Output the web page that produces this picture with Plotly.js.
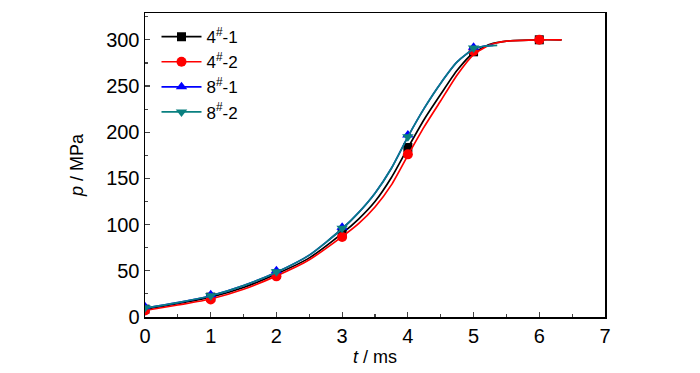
<!DOCTYPE html>
<html>
<head>
<meta charset="utf-8">
<script src="https://cdn.plot.ly/plotly-3.0.1.min.js"></script>
<style>html,body{margin:0;padding:0;background:#fff;}#chart{width:700px;height:373px;}</style>
</head>
<body>
<div id="chart"></div>
<script>
// dense curve data (t in ms, p in MPa)
var tBlack = [0, 0.5, 1, 1.5, 2, 2.5, 3, 3.25, 3.5, 3.75, 4, 4.25, 4.5, 4.75, 5, 5.25, 5.5, 6, 6.34];
var pBlack = [8.5, 14.5, 21.5, 32, 46.5, 64, 90.5, 106, 125, 151, 183, 214, 241, 267, 286, 295, 298.5, 300, 300];
var tRed = [0, 0.5, 1, 1.5, 2, 2.5, 3, 3.25, 3.5, 3.75, 4, 4.25, 4.5, 4.75, 5, 5.25, 5.5, 6, 6.34];
var pRed = [7, 13, 19.5, 30, 44.5, 62, 87, 101, 119, 143, 175, 206, 234, 262, 284, 294.5, 298.5, 300, 300];
var tBlue = [0, 0.5, 1, 1.5, 2, 2.5, 3, 3.25, 3.5, 3.75, 4, 4.25, 4.5, 4.75, 5, 5.15, 5.3];
var pBlue = [9.5, 15.5, 23, 34, 48.5, 67, 95.5, 113, 134, 161, 195, 226, 253, 276, 290, 293, 294];
var tTeal = [0, 0.5, 1, 1.5, 2, 2.5, 3, 3.25, 3.5, 3.75, 4, 4.25, 4.5, 4.75, 5, 5.15, 5.36];
var pTeal = [9.5, 15.5, 23, 34, 48.5, 67, 95.5, 113, 134, 161, 195, 226, 253, 276, 290, 293, 294];

// marker points
var tMark4 = [0, 1, 2, 3, 4, 5, 6];
var mBlack = [8.5, 21.5, 46.5, 90.5, 183.5, 287, 300];
var mRed = [7, 19, 44, 86.5, 176, 288, 300];
var tMark8 = [0, 1, 2, 3, 4, 5];
var mBlue = [11, 24, 50, 97, 197, 292];
var mTeal = [10, 23, 49, 96, 195, 291];

var names = ['4<sup>#</sup>-1', '4<sup>#</sup>-2', '8<sup>#</sup>-1', '8<sup>#</sup>-2'];
var xTicks = [0, 1, 2, 3, 4, 5, 6, 7];
var yTicks = [0, 50, 100, 150, 200, 250, 300];

var series = [
  {t: tBlack, p: pBlack, mt: tMark4, mp: mBlack, color: '#000000', symbol: 'square', size: 9, name: names[0]},
  {t: tRed, p: pRed, mt: tMark4, mp: mRed, color: '#ff0000', symbol: 'circle', size: 10, name: names[1]},
  {t: tBlue, p: pBlue, mt: tMark8, mp: mBlue, color: '#0000ff', symbol: 'triangle-up', size: 10, name: names[2]},
  {t: tTeal, p: pTeal, mt: tMark8, mp: mTeal, color: '#0a8080', symbol: 'triangle-down', size: 10, name: names[3]}
];

var traces = [];
series.forEach(function(s) {
  traces.push({x: s.t, y: s.p, type: 'scatter', mode: 'lines', showlegend: false,
    line: {color: s.color, width: 1.7, shape: 'spline', smoothing: 0.6}, hoverinfo: 'skip'});
  traces.push({x: s.mt, y: s.mp, type: 'scatter', mode: 'markers', showlegend: false,
    marker: {color: s.color, symbol: s.symbol, size: s.size}});
  traces.push({x: [null], y: [null], type: 'scatter', mode: 'lines+markers', name: s.name,
    line: {color: s.color, width: 1.7}, marker: {color: s.color, symbol: s.symbol, size: s.size}});
});

var fontFam = '"Liberation Sans", Arial, sans-serif';
var layout = {
  width: 700, height: 373,
  margin: {l: 145, r: 95, t: 13, b: 56},
  paper_bgcolor: '#ffffff', plot_bgcolor: '#ffffff',
  font: {family: fontFam, size: 20, color: '#000'},
  showlegend: true,
  legend: {x: 0.025, y: 0.98, xanchor: 'left', yanchor: 'top', bgcolor: 'rgba(0,0,0,0)',
    itemwidth: 40,
    font: {family: fontFam, size: 17, color: '#000'}, tracegroupgap: 0},
  xaxis: {range: [0, 7], tickvals: xTicks, ticktext: xTicks.map(String), ticks: 'inside', ticklen: 5, tickwidth: 1.2,
    showline: true, mirror: true, linecolor: '#000', linewidth: 1.5, showgrid: false, zeroline: false,
    minor: {dtick: 0.5, ticks: 'inside', ticklen: 3, tickwidth: 1.2},
    tickfont: {family: fontFam, size: 20},
    title: {text: '<i>t</i> / ms', font: {family: fontFam, size: 18}, standoff: 5}},
  yaxis: {range: [0, 329], tickvals: yTicks, ticktext: yTicks.map(String), ticks: 'inside', ticklen: 5, tickwidth: 1.2,
    showline: true, mirror: true, linecolor: '#000', linewidth: 1.5, showgrid: false, zeroline: false,
    minor: {dtick: 25, ticks: 'inside', ticklen: 3, tickwidth: 1.2},
    tickfont: {family: fontFam, size: 20},
    title: {text: '<i>p</i> / MPa', font: {family: fontFam, size: 18}, standoff: 18}}
};

Plotly.newPlot('chart', traces, layout, {displayModeBar: false, staticPlot: true});
</script>
</body>
</html>
